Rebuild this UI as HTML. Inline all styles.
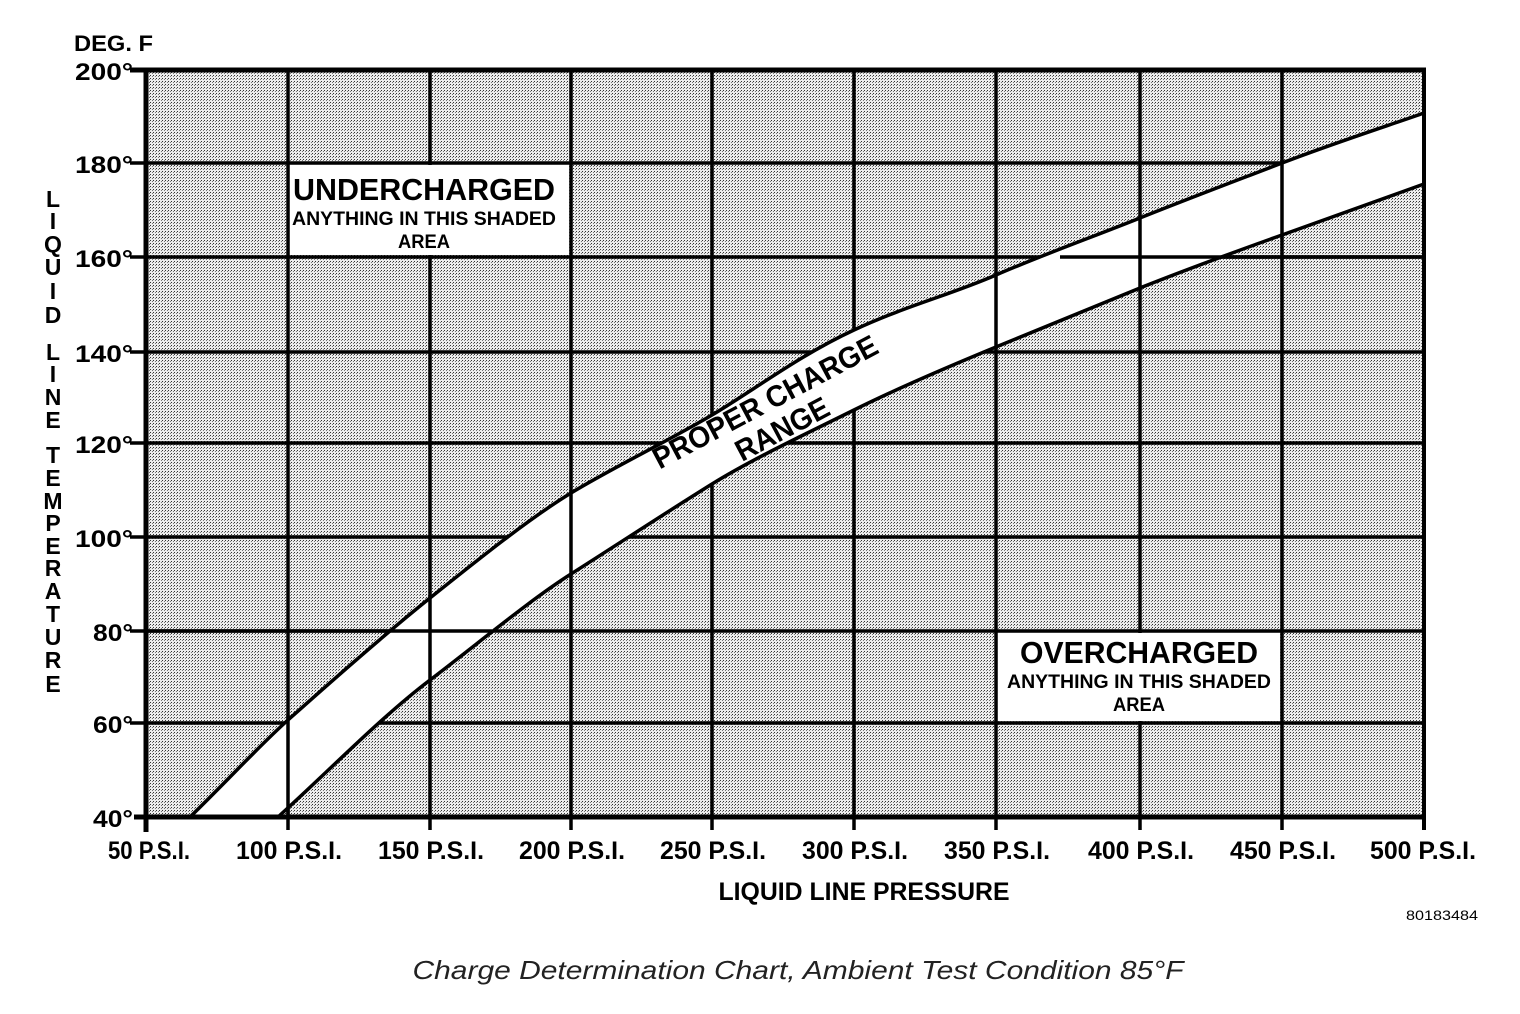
<!DOCTYPE html>
<html><head><meta charset="utf-8"><style>
html,body{margin:0;padding:0;background:#fff;}
svg{display:block;}
text{font-family:"Liberation Sans",Arial,sans-serif;}
</style></head><body>
<svg width="1520" height="1014" viewBox="0 0 1520 1014" xmlns="http://www.w3.org/2000/svg">
<defs>
<pattern id="dots" width="3" height="3" patternUnits="userSpaceOnUse">
<rect width="3" height="3" fill="#ececec"/>
<rect x="0" y="0" width="1" height="1" fill="#333"/>
<rect x="2" y="1" width="1" height="1" fill="#777"/>
</pattern>
</defs>
<rect x="146" y="70" width="1278" height="747" fill="url(#dots)"/>
<g stroke="#000" stroke-width="3.5">
<line x1="130" y1="163" x2="1424" y2="163"/>
<line x1="130" y1="257" x2="1424" y2="257"/>
<line x1="130" y1="352" x2="1424" y2="352"/>
<line x1="130" y1="443" x2="1424" y2="443"/>
<line x1="130" y1="537" x2="1424" y2="537"/>
<line x1="130" y1="631" x2="1424" y2="631"/>
<line x1="130" y1="723" x2="1424" y2="723"/>
</g>
<g stroke="#000" stroke-width="3.5">
<line x1="288" y1="70" x2="288" y2="830"/>
<line x1="430" y1="70" x2="430" y2="830"/>
<line x1="571" y1="70" x2="571" y2="830"/>
<line x1="712" y1="70" x2="712" y2="830"/>
<line x1="854" y1="70" x2="854" y2="830"/>
<line x1="996" y1="70" x2="996" y2="830"/>
<line x1="1140" y1="70" x2="1140" y2="830"/>
<line x1="1282" y1="70" x2="1282" y2="830"/>
<line x1="1424" y1="70" x2="1424" y2="830"/>
</g>
<path d="M190,817 C230,778 260,745 288,720 S380,638 430,598 S530,518 571,493 S670,440 712,415 S800,355 854,330 S950,295 996,275 S1090,238 1140,218 S1230,183 1282,163 S1390,125 1424,113 L1424,184 C1370,203 1320,220 1282,235 S1190,268 1140,288 S1040,328 996,347 S900,388 854,410 S760,455 712,484 S610,548 571,574 S480,640 430,680 S330,770 278,817 Z" fill="#fff" stroke="none"/>
<path d="M190,817 C230,778 260,745 288,720 S380,638 430,598 S530,518 571,493 S670,440 712,415 S800,355 854,330 S950,295 996,275 S1090,238 1140,218 S1230,183 1282,163 S1390,125 1424,113" fill="none" stroke="#000" stroke-width="3.5"/>
<path d="M278,817 C330,770 380,718 430,680 S530,600 571,574 S670,510 712,484 S810,432 854,410 S950,366 996,347 S1090,308 1140,288 S1240,250 1282,235 S1370,203 1424,184" fill="none" stroke="#000" stroke-width="3.5"/>
<g stroke="#000" stroke-width="3.5">
<line x1="288" y1="715" x2="288" y2="817"/>
<line x1="430" y1="595" x2="430" y2="682"/>
<line x1="571" y1="490" x2="571" y2="576"/>
<line x1="996" y1="272" x2="996" y2="349"/>
<line x1="1140" y1="215" x2="1140" y2="290"/>
<line x1="1282" y1="160" x2="1282" y2="237"/>
<line x1="146" y1="631" x2="492" y2="631"/>
<line x1="1060" y1="257" x2="1424" y2="257"/>
</g>
<rect x="290" y="165" width="279" height="90" fill="#fff"/>
<rect x="998" y="633" width="282" height="88" fill="#fff"/>
<line x1="130" y1="70" x2="1426" y2="70" stroke="#000" stroke-width="5"/>
<line x1="146" y1="68" x2="146" y2="832" stroke="#000" stroke-width="5"/>
<line x1="1424" y1="68" x2="1424" y2="830" stroke="#000" stroke-width="4"/>
<line x1="134" y1="817" x2="1426" y2="817" stroke="#000" stroke-width="5"/>
<g font-weight="bold" text-anchor="middle" fill="#000">
<text x="424" y="200" font-size="31" textLength="262" lengthAdjust="spacingAndGlyphs">UNDERCHARGED</text>
<text x="424" y="225" font-size="19" textLength="264" lengthAdjust="spacingAndGlyphs">ANYTHING IN THIS SHADED</text>
<text x="424" y="248" font-size="19" textLength="52" lengthAdjust="spacingAndGlyphs">AREA</text>
<text x="1139" y="663" font-size="31" textLength="238" lengthAdjust="spacingAndGlyphs">OVERCHARGED</text>
<text x="1139" y="688" font-size="19" textLength="264" lengthAdjust="spacingAndGlyphs">ANYTHING IN THIS SHADED</text>
<text x="1139" y="711" font-size="19" textLength="52" lengthAdjust="spacingAndGlyphs">AREA</text>
<text transform="translate(770,411) rotate(-28)" font-size="30" textLength="250" lengthAdjust="spacingAndGlyphs">PROPER CHARGE</text>
<text transform="translate(787,438) rotate(-28)" font-size="30" textLength="102" lengthAdjust="spacingAndGlyphs">RANGE</text>
</g>
<g font-weight="bold" font-size="24" text-anchor="end" fill="#000">
<text x="133" y="80" textLength="58" lengthAdjust="spacingAndGlyphs">200°</text>
<text x="133" y="173" textLength="58" lengthAdjust="spacingAndGlyphs">180°</text>
<text x="133" y="267" textLength="58" lengthAdjust="spacingAndGlyphs">160°</text>
<text x="133" y="362" textLength="58" lengthAdjust="spacingAndGlyphs">140°</text>
<text x="133" y="453" textLength="58" lengthAdjust="spacingAndGlyphs">120°</text>
<text x="133" y="547" textLength="58" lengthAdjust="spacingAndGlyphs">100°</text>
<text x="133" y="641" textLength="40" lengthAdjust="spacingAndGlyphs">80°</text>
<text x="133" y="733" textLength="40" lengthAdjust="spacingAndGlyphs">60°</text>
<text x="133" y="827" textLength="40" lengthAdjust="spacingAndGlyphs">40°</text>
</g>
<text x="74" y="51" font-weight="bold" font-size="22" textLength="79" lengthAdjust="spacingAndGlyphs">DEG. F</text>
<g font-weight="bold" font-size="25" text-anchor="middle" fill="#000">
<text x="149" y="859" textLength="82" lengthAdjust="spacingAndGlyphs">50 P.S.I.</text>
<text x="289" y="859" textLength="106" lengthAdjust="spacingAndGlyphs">100 P.S.I.</text>
<text x="431" y="859" textLength="106" lengthAdjust="spacingAndGlyphs">150 P.S.I.</text>
<text x="572" y="859" textLength="106" lengthAdjust="spacingAndGlyphs">200 P.S.I.</text>
<text x="713" y="859" textLength="106" lengthAdjust="spacingAndGlyphs">250 P.S.I.</text>
<text x="855" y="859" textLength="106" lengthAdjust="spacingAndGlyphs">300 P.S.I.</text>
<text x="997" y="859" textLength="106" lengthAdjust="spacingAndGlyphs">350 P.S.I.</text>
<text x="1141" y="859" textLength="106" lengthAdjust="spacingAndGlyphs">400 P.S.I.</text>
<text x="1283" y="859" textLength="106" lengthAdjust="spacingAndGlyphs">450 P.S.I.</text>
<text x="1423" y="859" textLength="106" lengthAdjust="spacingAndGlyphs">500 P.S.I.</text>
</g>
<text x="864" y="900" font-weight="bold" font-size="25" text-anchor="middle" textLength="291" lengthAdjust="spacingAndGlyphs">LIQUID LINE PRESSURE</text>
<text x="1442" y="920" font-size="14" text-anchor="middle" textLength="72" lengthAdjust="spacingAndGlyphs">80183484</text>
<g font-weight="bold" font-size="23" text-anchor="middle" fill="#000">
<text x="53" y="207">L</text><text x="53" y="229">I</text><text x="53" y="252">Q</text><text x="53" y="275">U</text><text x="53" y="299">I</text><text x="53" y="323">D</text>
<text x="53" y="360">L</text><text x="53" y="382">I</text><text x="53" y="405">N</text><text x="53" y="428">E</text>
<text x="53" y="463">T</text><text x="53" y="486">E</text><text x="53" y="509">M</text><text x="53" y="531">P</text><text x="53" y="554">E</text><text x="53" y="576">R</text><text x="53" y="599">A</text><text x="53" y="622">T</text><text x="53" y="645">U</text><text x="53" y="668">R</text><text x="53" y="692">E</text>
</g>
<text x="798" y="979" font-style="italic" font-size="26" text-anchor="middle" fill="#222" textLength="771" lengthAdjust="spacingAndGlyphs">Charge Determination Chart, Ambient Test Condition 85°F</text>
</svg>
</body></html>
